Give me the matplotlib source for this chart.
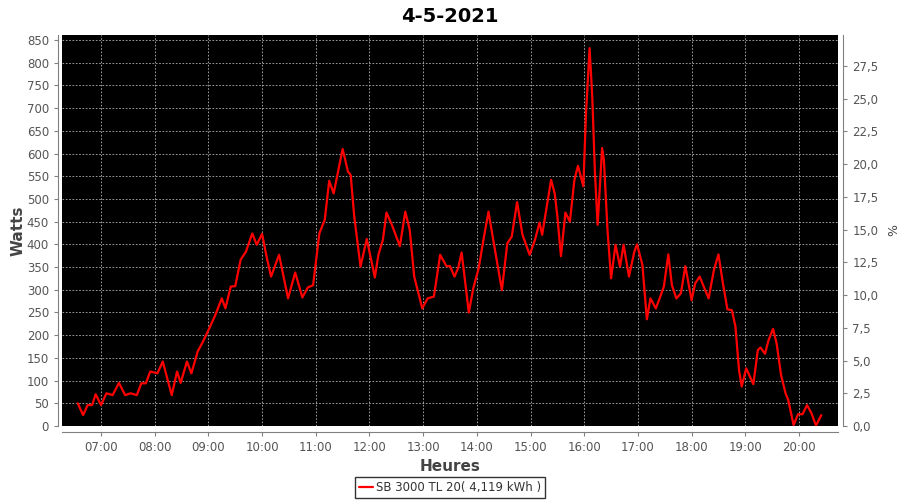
import matplotlib as mpl

mpl.use("Agg")
import matplotlib.pyplot as plt
from matplotlib.ticker import FuncFormatter, MultipleLocator

title = "4-5-2021"
series_name = "SB 3000 TL 20( 4,119 kWh )"

times = [
    "06:34", "06:40", "06:45", "06:50", "06:54", "07:00", "07:06", "07:13", "07:20", "07:27",
    "07:33", "07:40", "07:45", "07:50", "07:55", "08:03", "08:09", "08:19", "08:25", "08:29",
    "08:36", "08:41", "08:48", "08:54", "09:00", "09:07", "09:15", "09:19", "09:25", "09:30",
    "09:36", "09:42", "09:49", "09:54", "10:00", "10:05", "10:10", "10:19", "10:29", "10:37",
    "10:45", "10:51", "10:57", "11:04", "11:10", "11:15", "11:20", "11:30", "11:36", "11:39",
    "11:43", "11:50", "11:57", "12:06", "12:10", "12:15", "12:19", "12:25", "12:34", "12:40",
    "12:45", "12:50", "12:59", "13:05", "13:12", "13:19", "13:26", "13:30", "13:35", "13:39",
    "13:43", "13:51", "13:56", "14:02", "14:08", "14:13", "14:19", "14:28", "14:34", "14:39",
    "14:45", "14:51", "14:59", "15:05", "15:10", "15:13", "15:19", "15:23", "15:27", "15:30",
    "15:34", "15:39", "15:44", "15:49", "15:53", "15:59", "16:02", "16:06", "16:09", "16:12",
    "16:15", "16:20", "16:22", "16:26", "16:30", "16:35", "16:40", "16:44", "16:50", "16:56",
    "16:59", "17:05", "17:10", "17:14", "17:20", "17:25", "17:29", "17:34", "17:38", "17:43",
    "17:48", "17:53", "18:00", "18:04", "18:09", "18:19", "18:25", "18:30", "18:35", "18:40",
    "18:45", "18:49", "18:53", "18:56", "19:01", "19:09", "19:14", "19:17", "19:22", "19:26",
    "19:31", "19:35", "19:40", "19:45", "19:48", "19:54", "19:59", "20:04", "20:09", "20:14",
    "20:19", "20:25",
]
watts = [
    50, 24, 46, 46, 70, 46, 72, 68, 95, 68,
    72, 68, 94, 94, 120, 116, 142, 68, 120, 95,
    142, 116, 164, 186, 211, 241, 281, 259, 307, 308,
    366, 384, 424, 399, 423, 373, 329, 377, 281, 338,
    283, 305, 310, 424, 454, 540, 512, 610, 560, 553,
    461, 351, 412, 327, 377, 410, 470, 443, 396, 472,
    432, 329, 259, 281, 285, 377, 352, 352, 329, 347,
    382, 250, 303, 347, 417, 472, 402, 299, 402, 417,
    493, 421, 377, 410, 448, 421, 494, 542, 512, 461,
    374, 470, 450, 542, 573, 528, 689, 832, 725, 556,
    443, 612, 586, 432, 325, 399, 351, 399, 329, 384,
    400, 355, 235, 281, 259, 285, 307, 378, 310, 281,
    292, 352, 277, 314, 329, 281, 344, 378, 314, 257,
    255, 219, 123, 87, 127, 92, 167, 173, 159, 189,
    214, 182, 112, 72, 57, 2, 26, 26, 46, 28,
    1, 24,
]
hour_ticks = list(range(7, 21))


def to_hours(s):
    h, m = s.split(":")
    return int(h) + int(m) / 60


x = [to_hours(t) for t in times]

fig = plt.figure(figsize=(9, 5), dpi=100)
ax = fig.add_axes([0.069, 0.148, 0.862, 0.782])
ax.set_facecolor("black")

ax.plot(x, watts, color="#ff0000", lw=1.6, label=series_name,
        solid_joinstyle="round", solid_capstyle="round")

ax.set_xlim(6.275, 20.725)
ax.set_ylim(0, 861)
ax.yaxis.set_major_locator(MultipleLocator(50))
ax.set_xticks(hour_ticks)
ax.set_xticklabels([f"{h:02d}:00" for h in hour_ticks])

ax.grid(True, color="#b4b4b4", linestyle=(0, (2, 2)), linewidth=0.6)

ax2 = ax.twinx()
ax2.set_ylim(0, 29.87)
ax2.yaxis.set_major_locator(MultipleLocator(2.5))
ax2.yaxis.set_major_formatter(FuncFormatter(lambda v, p: f"{v:.1f}".replace(".", ",")))

gray = "#808080"
for a in (ax, ax2):
    for side in ("top", "right", "left", "bottom"):
        a.spines[side].set_visible(False)
    a.tick_params(colors="#555555", labelsize=8.5, length=3, width=0.8)
    a.tick_params(axis="both", color=gray)

ax.spines["left"].set_visible(True)
ax.spines["left"].set_position(("outward", 3))
ax.spines["left"].set_color(gray)
ax.spines["bottom"].set_visible(True)
ax.spines["bottom"].set_position(("outward", 4))
ax.spines["bottom"].set_color(gray)
ax2.spines["right"].set_visible(True)
ax2.spines["right"].set_position(("outward", 4))
ax2.spines["right"].set_color(gray)

ax.set_ylabel("Watts", fontsize=11, fontweight="bold", color="#444444", labelpad=1)
ax.set_xlabel("Heures", fontsize=11, fontweight="bold", color="#444444", labelpad=4)
ax2.set_ylabel("%", fontsize=9, color="#444444", labelpad=6)

fig.suptitle(title, x=0.5, y=0.985, fontsize=14, fontweight="bold")

leg = fig.legend(loc="center", bbox_to_anchor=(0.5, 0.025), fontsize=8.5,
                 frameon=True, fancybox=False, handlelength=1.2,
                 borderpad=0.3, handletextpad=0.3)
leg.get_frame().set_edgecolor("black")
leg.get_frame().set_linewidth(1)
for t in leg.get_texts():
    t.set_color("#333333")

fig.savefig("out.png", dpi=100)
